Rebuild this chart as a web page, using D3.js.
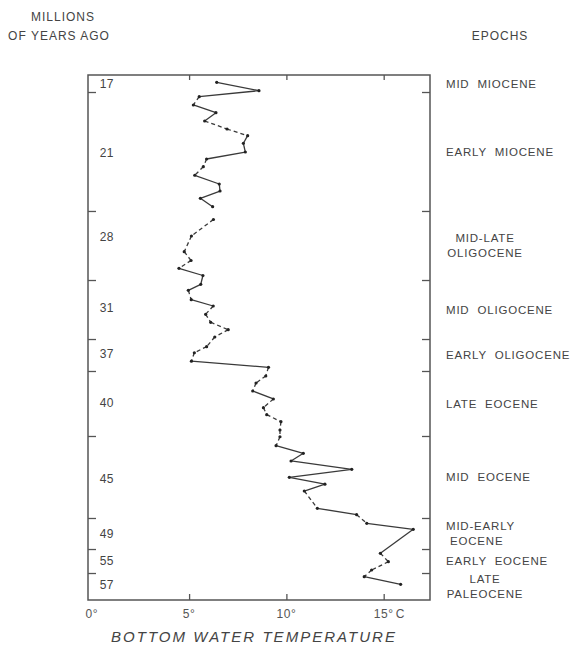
<!DOCTYPE html>
<html>
<head>
<meta charset="utf-8">
<script src="https://cdn.jsdelivr.net/npm/d3@7"></script>
<style>
  html, body { margin: 0; padding: 0; background: #fff; }
  svg { display: block; }
  text { font-family: "Liberation Sans", Arial, sans-serif; fill: #444; }
</style>
</head>
<body>
<svg id="chart" width="571" height="645"></svg>
<script>
// Bottom-water temperature (°C) for each sample, youngest at top.
const temps = [
  6.42, 8.59, 5.52, 5.22, 6.38, 5.80, 6.95, 8.01, 7.79, 7.89,
  5.90, 5.73, 5.29, 6.55, 6.59, 5.58, 6.21, 6.25, 5.12, 4.75,
  5.10, 4.48, 5.71, 5.60, 4.96, 5.11, 6.24, 5.85, 6.11, 7.01,
  6.32, 5.90, 5.27, 5.12, 9.08, 8.94, 8.44, 8.27, 9.33, 8.82,
  8.99, 9.72, 9.67, 9.67, 9.47, 10.87, 10.24, 13.36, 10.15, 11.98,
  10.92, 11.59, 13.61, 14.13, 16.52, 14.83, 15.24, 14.38, 14.00, 15.87
];
// Stratigraphic position of each sample (0 = top of section, 100 = base).
const levels = [
  1.39, 2.99, 4.13, 5.71, 7.18, 8.76, 10.29, 11.56, 13.01, 14.67,
  16.00, 17.47, 19.10, 20.76, 22.10, 23.49, 25.09, 27.52, 30.67, 33.66,
  35.33, 36.82, 38.19, 39.87, 41.01, 42.80, 44.00, 45.58, 47.10, 48.51,
  49.90, 51.75, 52.90, 54.51, 55.68, 57.33, 58.67, 60.19, 61.71, 63.37,
  64.70, 66.04, 67.62, 68.90, 70.61, 72.06, 73.52, 75.10, 76.63, 77.94,
  79.24, 82.53, 83.75, 85.39, 86.53, 91.10, 92.70, 94.29, 95.56, 97.01
];
// Link from the previous sample: "s" continuous, "d" interpolated, "" none.
const links = [
  "",  "s", "s", "d", "s", "s", "d", "d", "s", "s",
  "s", "d", "d", "s", "s", "s", "s", "",  "d", "d",
  "d", "d", "s", "s", "s", "d", "s", "d", "d", "d",
  "d", "d", "d", "d", "s", "d", "d", "d", "s", "d",
  "d", "d", "d", "d", "d", "s", "s", "s", "s", "s",
  "s", "d", "s", "d", "s", "s", "d", "d", "d", "s"
];

// Epochs, top to bottom, with the level of each epoch's base.
const epochNames = [
  ["MID  MIOCENE"], ["EARLY  MIOCENE"], ["MID-LATE", "OLIGOCENE"],
  ["MID  OLIGOCENE"], ["EARLY  OLIGOCENE"], ["LATE  EOCENE"],
  ["MID  EOCENE"], ["MID-EARLY", " EOCENE"], ["EARLY  EOCENE"],
  ["LATE", "PALEOCENE"]
];
const epochBase = [3.24, 25.90, 39.05, 50.29, 56.38, 68.76, 84.38, 90.29, 94.86, 100];

// Ages (millions of years ago) and where they fall in the section.
const ageLabels = ["17", "21", "28", "31", "37", "40", "45", "49", "55", "57"];
const ageLevels = [1.71, 14.86, 30.86, 44.38, 53.14, 62.48, 76.95, 87.43, 92.57, 97.14];

const tempTicks = [0, 5, 10, 15];

const svg = d3.select("#chart");
const plotL = 88, plotR = 430, plotT = 75, plotB = 600;

const x = d3.scaleLinear().domain([-0.195, 17.38]).range([plotL, plotR]);
const y = d3.scaleLinear().domain([0, 100]).range([plotT, plotB]);

const ink = "#3a3a3a";
const frameInk = "#555";

// Frame
svg.append("rect")
  .attr("x", plotL).attr("y", plotT)
  .attr("width", plotR - plotL).attr("height", plotB - plotT)
  .attr("fill", "none").attr("stroke", frameInk).attr("stroke-width", 1.5);

// Inward ticks on the temperature axis (top and bottom)
const tickT = tempTicks.filter(d => d > 0);
const axB = d3.axisBottom(x).tickValues(tickT).tickFormat("").tickSizeInner(-6).tickSizeOuter(0);
const axT = d3.axisTop(x).tickValues(tickT).tickFormat("").tickSizeInner(-5).tickSizeOuter(0);
[svg.append("g").attr("transform", `translate(0,${plotB})`).call(axB),
 svg.append("g").attr("transform", `translate(0,${plotT})`).call(axT)].forEach(g => {
  g.select(".domain").remove();
  g.selectAll("line").attr("stroke", frameInk).attr("stroke-width", 1.3);
});

// Inward ticks at epoch boundaries (left and right)
const bounds = epochBase.slice(0, -1);
const axL = d3.axisLeft(y).tickValues(bounds).tickFormat("").tickSizeInner(-8).tickSizeOuter(0);
const axR = d3.axisRight(y).tickValues(bounds).tickFormat("").tickSizeInner(-8).tickSizeOuter(0);
[svg.append("g").attr("transform", `translate(${plotL},0)`).call(axL),
 svg.append("g").attr("transform", `translate(${plotR},0)`).call(axR)].forEach(g => {
  g.select(".domain").remove();
  g.selectAll("line").attr("stroke", frameInk).attr("stroke-width", 1.3);
});

// Temperature labels ("15°" sits on its tick, the unit trails it)
svg.append("g").selectAll("text").data(tempTicks).join("text")
  .attr("x", d => x(d)).attr("y", 618)
  .attr("text-anchor", "middle")
  .attr("font-size", 12).attr("letter-spacing", 0.5)
  .style("fill", "#555")
  .text(d => d + "°");
svg.append("text")
  .attr("x", x(15) + 12).attr("y", 618)
  .attr("font-size", 12)
  .style("fill", "#555")
  .text("C");

// Axis title
svg.append("text")
  .attr("x", 253).attr("y", 642)
  .attr("text-anchor", "middle")
  .attr("font-size", 15).attr("font-style", "italic")
  .attr("textLength", 284).attr("lengthAdjust", "spacing")
  .style("fill", "#444")
  .text("BOTTOM  WATER  TEMPERATURE");

// Column headers
const head = svg.append("g").attr("font-size", 12).attr("letter-spacing", 1);
head.append("text").attr("x", 63).attr("y", 21).attr("text-anchor", "middle").text("MILLIONS");
head.append("text").attr("x", 59).attr("y", 40).attr("text-anchor", "middle").text("OF YEARS AGO");
head.append("text").attr("x", 500).attr("y", 40).attr("text-anchor", "middle").text("EPOCHS");

// Age labels
svg.append("g").selectAll("text").data(ageLabels).join("text")
  .attr("x", 114).attr("y", (d, i) => y(ageLevels[i]))
  .attr("dy", "0.36em").attr("text-anchor", "end")
  .attr("font-size", 12).attr("letter-spacing", 0.5)
  .text(d => d);

// Epoch labels, centred in their band
const epochs = epochNames.map((lines, i) => ({
  lines,
  mid: ((i === 0 ? 0 : epochBase[i - 1]) + epochBase[i]) / 2
}));
const eg = svg.append("g").attr("font-size", 11.5).attr("letter-spacing", 0.8);
epochs.forEach(e => {
  const n = e.lines.length;
  const centred = n > 1 && e.lines[0].trim().length < e.lines[1].trim().length;
  const widest = 78;
  e.lines.forEach((t, j) => {
    eg.append("text")
      .attr("x", centred ? 446 + widest / 2 : 446)
      .attr("text-anchor", centred ? "middle" : "start")
      .attr("y", y(e.mid) + (j - (n - 1) / 2) * 15.5)
      .attr("dy", "0.36em")
      .style("white-space", "pre")
      .text(t);
  });
});

// Temperature record: one segment per link between consecutive samples
const pts = temps.map((t, i) => ({ t, lv: levels[i], link: links[i] }));
const segs = d3.pairs(pts).filter(([, b]) => b.link !== "");
const line = d3.line().x(d => x(d.t)).y(d => y(d.lv));
svg.append("g").selectAll("path").data(segs).join("path")
  .attr("d", line)
  .attr("fill", "none")
  .attr("stroke", ink)
  .attr("stroke-width", 1.3)
  .attr("stroke-dasharray", ([, b]) => b.link === "d" ? "4,3" : null);

svg.append("g").selectAll("circle").data(pts).join("circle")
  .attr("cx", d => x(d.t)).attr("cy", d => y(d.lv))
  .attr("r", 1.6).attr("fill", "#222");
</script>
</body>
</html>
